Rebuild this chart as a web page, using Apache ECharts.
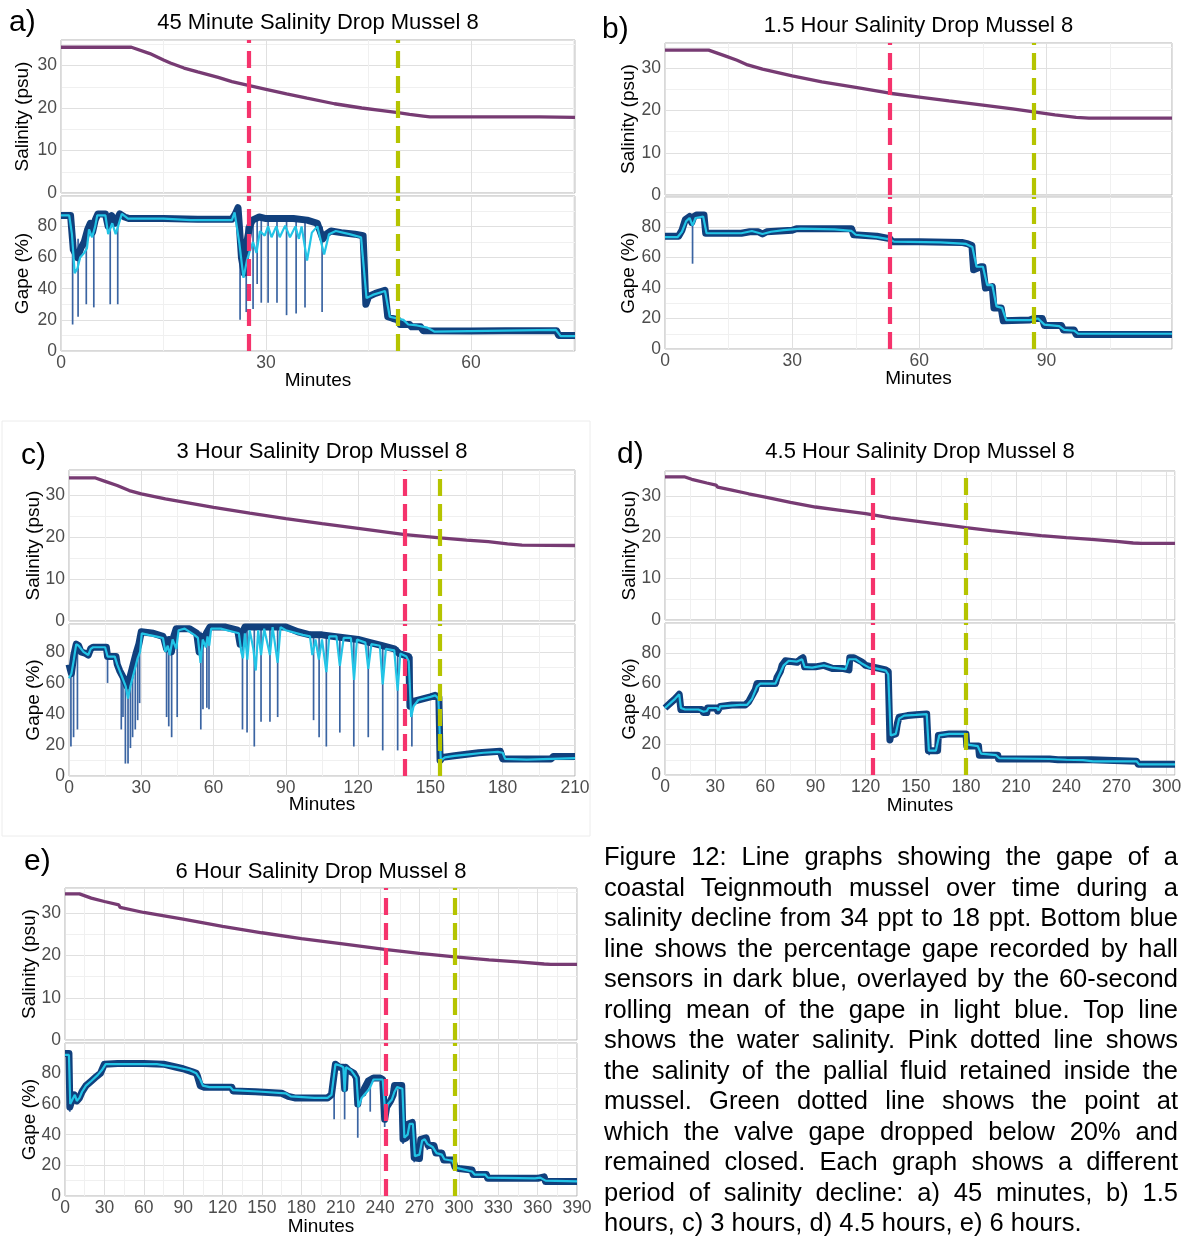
<!DOCTYPE html>
<html>
<head>
<meta charset="utf-8">
<script src="https://cdn.jsdelivr.net/npm/echarts/dist/echarts.min.js"></script>
<style>
  html, body { margin: 0; padding: 0; background: #fff; }
  #chart { position: absolute; left: 0; top: 0; width: 1189px; height: 1236px; }
  #caption { position: absolute; left: 604px; top: 841px; width: 574px;
    font-family: 'Liberation Sans', Arial, sans-serif; font-size: 25.5px; line-height: 30.5px; color: #000; }
  #caption div { text-align: justify; text-align-last: justify; }
  #caption div.last { text-align-last: left; }
</style>
</head>
<body>
<div id="chart"></div>
<div id="caption"></div>
<script>
// ---- a) 45 minute drop ----
var salA = [[0,34.3],[10.3,34.3],[13,32.8],[15,31.3],[16,30.6],[18,29.4],[20,28.5],[23,27.2],[25,26.2],[27.4,25.3],[30,24.4],[33,23.3],[36,22.3],[40,21.0],[44,20],[47,19.4],[49.3,18.9],[51,18.5],[53,18.1],[54,17.9],[60,17.9],[70,17.9],[75.2,17.8]];
var gapeA = [[0,87],[1.4,87],[1.8,65],[2.4,60],[2.9,66],[3.4,70],[3.9,78],[4.3,82],[4.6,76],[5,84],[5.4,88],[6.5,88],[6.9,80],[7.4,87],[7.9,82],[8.6,88],[9.3,86],[10,85],[15,85],[20,84.5],[25,84.5],[25.5,88],[25.9,92],[26.1,80],[26.4,60],[26.8,50],[27.2,70],[27.6,80],[28,84],[29,86],[30,85],[32,85],[34,85],[36,84],[37.5,82],[38.3,72],[38.8,75],[39.5,77],[41,76],[43,75],[44.2,74],[44.6,30],[45,35],[46,37],[47.4,39],[47.8,22],[48.5,21],[49.3,20],[49.6,17],[51,17],[51.3,15.5],[52.6,15.5],[53,13],[60,12.8],[65,13],[70,13],[72.5,13],[72.8,10],[75.2,10]];
var spikesA = [[1.7,80,17],[2.5,72,22],[3.7,78,30],[4.8,85,28],[7.2,87,30],[8.3,87,30],[26.2,85,20],[27.1,80,25],[28.1,84,27],[28.7,85,43],[29.3,86,31],[30.3,86,31],[31.6,86,31],[33,86,23],[34.4,85,24],[35.7,84,28],[38.2,80,25]];
var meanA = [[0,87],[1.2,87],[1.6,75],[2.0,50],[2.4,53],[2.8,60],[3.4,63],[3.8,66],[4.1,78],[4.55,73],[5.0,80],[5.3,87],[6.5,87],[6.9,75],[7.5,82],[8.0,75],[8.9,88],[9.8,85],[15,85],[19,84],[25,84],[25.4,89],[26.1,69],[26.7,47],[27.2,58],[27.6,64],[28.1,70],[28.6,63],[29.1,77],[29.8,74],[30.3,80],[30.8,73],[31.5,80],[32,73],[32.8,80.5],[33.5,73],[34.3,80],[34.8,72],[35.2,80],[36,58],[36.7,76],[37.5,80],[38.5,62],[39.2,75],[40.2,77],[42.2,75],[43.9,73],[44.7,34],[45.6,36],[47.4,38.5],[48.1,22],[50.1,20],[50.8,17],[52.1,16.4],[53.6,15],[54.6,12.5],[72.4,13.6],[73.1,9.5],[75.2,9.5]];
var marksA = [27.4, 49.3];

// ---- b) 1.5 hour drop ----
var salB = [[0,34.3],[10.3,34.3],[14,33],[17,31.9],[19.5,30.8],[23,29.8],[30,28.2],[37,26.8],[45,25.5],[53,24.1],[60,23.2],[67,22.3],[75,21.3],[82,20.4],[87,19.7],[92,19],[97,18.4],[100,18.2],[119.6,18.2]];
var gapeB = [[0,74],[3.2,74],[4,78],[4.8,85],[5.8,87],[6.3,83],[6.8,87],[7.5,88],[9.2,88],[9.6,76],[12,76],[18,76],[20,77],[22,77],[23,75.5],[24,77],[30,78],[31,79],[44,79],[44.5,75],[50,74],[53,72.5],[53.6,70.5],[60,70.5],[70,70],[71.5,69],[72.4,68],[72.8,52],[74.5,54],[75,54],[75.6,40],[77.2,41],[77.6,27],[79.3,27],[79.8,18.5],[86,19],[87,20],[89,20],[89.5,15.5],[93.5,15.5],[94,12.5],[96.5,12.5],[97,9.5],[119.6,9.5]];
var spikesB = [[6.5,84,56]];
var meanB = [[0,73.5],[3,73.5],[4,77],[5,84],[5.8,86],[6.5,81],[7.2,86],[9,87],[9.8,76],[12,76],[18,76],[20.5,77.5],[23,75.5],[25,77],[28,78],[32,79],[40,78.5],[44,77.5],[45,75],[50,73.5],[53,72],[54,70.5],[65,70],[71,69],[72.5,67],[73.5,54],[75,54],[76,42],[77.2,42],[78.2,28],[79.5,27],[80.5,19],[86,19],[88,20],[89.5,16],[93,15],[94.2,12.5],[96.5,12],[97.5,10],[119.6,10]];
var marksB = [53, 87];

// ---- c) 3 hour drop ----
var salC = [[0,34.1],[11,34.1],[15,33.3],[20,32.3],[25,31.1],[30,30.3],[40,29.1],[50,28.1],[60,27.1],[75,25.7],[90,24.4],[105,23.2],[120,22.1],[139.5,20.6],[154,19.8],[165,19.3],[174,18.9],[182,18.4],[188,18.1],[210,18.0]];
var gapeC = [[0,72],[1,66],[2,78],[3,85],[4,84],[5,80],[7,79],[8,78],[9,82],[10,83],[15.5,83],[16,77],[19.5,77],[20,72],[21,68],[22,65],[23,62],[24,58],[25,62],[26,68],[27,74],[28,80],[29,85],[30,93],[35,92],[39,90],[39.5,88],[40.5,82],[41.5,88],[42.5,80],[43.5,90],[44.5,95],[50,95],[52,93],[53,92],[54,80],[55,90],[56,86],[57,92],[58.5,96],[65,96],[70,94],[71,85],[72,92],[73,96],[90,96],[95,93],[100,91],[105,91],[110,90],[115,89],[120,88],[125,86],[130,84],[135,82],[137,79],[141,77],[141.5,45],[142.5,48],[150,51],[152,52],[153.5,51],[154,10],[155,12],[160,13],[170,15],[179,16],[180,11],[200,11],[201,12.5],[210,12.5]];
var spikesC = [[0.8,72,19],[1.9,70,25],[3.5,85,30],[16,83,60],[21.7,70,30],[22.4,66,38],[23.4,64,8],[24.5,62,8],[25.5,66,18],[26.4,70,25],[27.5,76,30],[28.5,80,36],[29.3,86,47],[40.5,90,38],[41.4,88,32],[42.6,90,25],[44.9,92,38],[54.7,93,30],[55.6,92,43],[57.2,92,44],[58.1,93,43],[72,96,30],[73.9,96,28],[76.9,96,19],[79.7,96,35],[83.4,96,35],[86.6,96,38],[101.5,92,36],[103.8,92,25],[106.8,92,19],[112.4,90,28],[118.2,89,19],[124.2,87,25],[130.2,85,16.5],[136.4,83,16.5],[142.3,77,19]];
var meanC = [[0,63],[1,66],[2,75],[3,85],[4,84],[6,80],[8,78],[9,82],[10,83],[15,83],[16,77],[19,77],[20,72],[21,68],[22,64],[23.5,58],[24.5,50],[25.5,58],[26.5,64],[27.5,70],[28.5,76],[29.5,80],[30.2,92],[33,91],[36,90],[39,89],[40,80],[41,84],[41.8,78],[43,88],[44.5,82],[45.5,94],[48,95],[52,91],[53.5,89],[54.6,73],[55.5,88],[56.8,83],[57.5,90],[58.2,84],[59,95],[63,95],[68,93],[70.5,92],[71.5,80],[72.2,76],[73,92],[74,75],[75,94],[76.5,82],[77.5,68],[78.5,94],[79.7,78],[81,95],[83.4,78],[84.5,96],[86.6,73],[87.8,96],[90,94],[97,91],[100,90],[101,78],[102.3,88],[103.7,75],[105,88],[106.8,67],[108,90],[111,90],[112.4,71],[114,89],[117,89],[118.3,62],[119.5,88],[123,86],[124.2,69],[125.5,85],[129,84],[130.2,59],[131.5,82],[135,81],[136.4,55],[137.5,79],[140,77],[141,74],[142,38],[143,45],[145,49],[150,51],[152,52],[153.3,50],[154.3,10],[156,12],[160,13],[166,14],[172,15],[178,15.5],[180,15],[181,11],[190,10.5],[200,11],[210,11.5]];
var marksC = [139.5, 154];

// ---- d) 4.5 hour drop ----
var salD = [[0,34.6],[11.5,34.6],[16,34],[25,33.1],[30.5,32.6],[31.5,32.1],[40,31.4],[50,30.5],[60,29.7],[75,28.4],[90,27.3],[105,26.5],[120,25.7],[135,24.7],[150,23.9],[165,23.1],[180,22.3],[195,21.6],[210,21.0],[225,20.4],[240,19.9],[255,19.5],[270,19],[280,18.6],[285,18.5],[305,18.5]];
var gapeD = [[0,44],[3,47],[6,50],[8.5,53],[9.5,43],[12,43],[22,43],[23,41],[25,41],[25.5,44],[31,44],[31.5,42],[32.5,42],[33,45],[40,46],[48,46],[50,48],[52,52],[54,56],[55,60],[62,60],[66,60],[67,64],[69,68],[70,72],[72,75],[79,74],[81,76],[82.5,77],[83.5,71],[90,71],[95,72],[100,70],[106,70],[110,69],[110.5,77],[113,77],[118,74],[120,72],[124,71],[132,69],[133.5,68],[134.5,23],[135,26],[138,27],[139,34],[140,38],[145,39],[150,39.5],[156.5,40],[157.5,16],[163,16],[163.5,26],[170,27],[180,27],[180.5,19],[187.5,19],[188,13],[199,13],[199.5,10.5],[230,10.5],[235,10],[255,10],[256,9],[282,9],[283,7],[305,7]];
var spikesD = [[134.5,68,22],[158,26,13]];
var meanD = [[0,44],[3,47],[6,50],[8.5,53],[9.5,44],[12,43],[20,43],[23,41.5],[25,42],[26,44],[31,44],[32,42.5],[33,45],[45,46],[49,46],[52,50],[55,58],[57,60],[66,60],[68,65],[71,72],[74,75],[79,74.5],[82,76],[83.5,71],[88,70.5],[95,72],[100,70.5],[108,69.5],[110,76],[114,76],[118,73],[122,70.5],[126,70],[132,68.5],[133.5,66],[135,26],[138,27],[140,37],[143,39],[150,39.5],[156.5,40],[157.8,16],[162,16],[164,26],[170,27],[180,27],[181,20],[187,19],[189,14],[198,13],[200,11],[230,10.5],[240,10],[250,9.8],[256,9],[270,9],[282,9],[283.5,7],[305,7]];
var marksD = [124.5, 180];

// ---- e) 6 hour drop ----
var salE = [[0,34.6],[11,34.6],[20,33.6],[30,32.8],[41,32],[42,31.4],[60,30.2],[90,28.6],[120,26.9],[150,25.4],[180,24],[210,22.8],[245,21.4],[270,20.5],[297,19.7],[323,19],[345,18.5],[365,18],[370,17.9],[390,17.9]];
var gapeE = [[0,93],[3,93],[3.7,58],[5,62],[7,66],[9,62],[11,64],[13,68],[16,72],[20,75],[24,78],[27,80],[30,86],[40,86.5],[60,86.5],[75,86],[85,84],[90,83],[97,81],[100,80],[101,78],[103,72],[106,71],[120,71],[127,71],[128,68.5],[145,68],[165,67],[170,65],[175,64],[190,64],[200,64],[203,66],[204.5,65],[206,86],[209,84],[212,84],[213,70],[213.7,84],[216,82],[220,80],[222,77],[223,60],[224,66],[227,67],[228,70],[231,75],[235,77],[240,77],[242,76],[243.5,50],[245,58],[248,62],[250,66],[251,72],[256.5,72],[257.5,37],[260,38],[261.5,47],[264.5,48],[266,25],[270,24.5],[271,37],[275,38],[276.5,33],[281,33],[282.5,28],[287,28],[288.5,23.5],[295.5,23.5],[297,19],[300,18],[301,17],[310,17],[311,14],[321,14],[322,11.5],[360,11.5],[361,12.5],[365,12.5],[366,9.5],[390,9.5]];
var spikesE = [[3.7,92,55],[205,66,50],[213,84,50],[223,76,38],[232.5,76,55],[243.5,77,45],[257.5,72,34],[266,46,22],[276,38,30]];
var meanE = [[0,92],[3,92],[4,60],[5.5,61],[7.5,66],[9,62],[11,64],[13,68],[16,72],[20,75],[25,79],[28,82],[31,86],[40,86],[70,86],[85,84],[95,82],[100,80],[103,76],[105,72],[110,71],[126,71],[128,69],[150,68],[168,67],[172,65],[190,64],[200,64],[203,66],[206,86],[210,85],[212,84],[213,68],[214,84],[218,82],[222,77],[223.5,58],[226,64],[228,66],[232,70],[235,76],[242,76],[244,53],[246,60],[249,63],[251,68],[253,71],[257,70],[258.5,38],[261,40],[262.5,47],[265,47],[266.5,26],[270,27],[272,36],[274,37],[276,34],[280,32],[283,28],[287,27],[289,24],[295,23],[297,19],[300,18],[310,16],[312,14],[320,14],[322,12],[358,11.5],[362,12],[366,10],[390,9.5]];
var marksE = [244, 297];

var titles = ['45 Minute Salinity Drop Mussel 8', '1.5 Hour Salinity Drop Mussel 8', '3 Hour Salinity Drop Mussel 8', '4.5 Hour Salinity Drop Mussel 8', '6 Hour Salinity Drop Mussel 8'];
var letters = ['a)', 'b)', 'c)', 'd)', 'e)'];
var captionLines = [
  'Figure 12: Line graphs showing the gape of a',
  'coastal Teignmouth mussel over time during a',
  'salinity decline from 34 ppt to 18 ppt. Bottom blue',
  'line shows the percentage gape recorded by hall',
  'sensors in dark blue, overlayed by the 60-second',
  'rolling mean of the gape in light blue. Top line',
  'shows the water salinity. Pink dotted line shows',
  'the salinity of the pallial fluid retained inside the',
  'mussel. Green dotted line shows the point at',
  'which the valve gape dropped below 20% and',
  'remained closed. Each graph shows a different',
  'period of salinity decline: a) 45 minutes, b) 1.5',
  'hours, c) 3 hours, d) 4.5 hours, e) 6 hours.'
];

// layout: plot box [left, right, salTop, salBottom, gapeTop, gapeBottom]
var panels = [
  { sal: salA, gape: gapeA, spikes: spikesA, mean: meanA, marks: marksA, xMax: 75.2, gMax: 99.5,
    box: [61, 575, 40, 193, 196, 351], letter: [9, 23], titleY: 23, nameX: 23, minutesY: 381 },
  { sal: salB, gape: gapeB, spikes: spikesB, mean: meanB, marks: marksB, xMax: 119.6, gMax: 99.8,
    box: [665, 1172, 43, 195, 197, 349], letter: [602, 30], titleY: 26, nameX: 629, minutesY: 379 },
  { sal: salC, gape: gapeC, spikes: spikesC, mean: meanC, marks: marksC, xMax: 210, gMax: 98,
    box: [69, 575, 470, 621, 624, 776], letter: [21, 456], titleY: 452, nameX: 34, minutesY: 805 },
  { sal: salD, gape: gapeD, spikes: spikesD, mean: meanD, marks: marksD, xMax: 305, gMax: 99.8,
    box: [665, 1175, 471, 620, 623, 775], letter: [617, 455], titleY: 452, nameX: 630, minutesY: 806 },
  { sal: salE, gape: gapeE, spikes: spikesE, mean: meanE, marks: marksE, xMax: 390, gMax: 99.8,
    box: [65, 577, 888, 1040, 1043, 1196], letter: [24, 862], titleY: 872, nameX: 30, minutesY: 1227 }
];

var FONT = "'Liberation Sans', Arial, sans-serif";
var markColors = ['#f5336c', '#b5c400'];
var gridColors = ['#e0e0e0', '#f0f0f0'];

function xAxis(g, max, labels) {
  return {
    type: 'value', gridIndex: g, min: 0, max: max, interval: 15,
    axisLine: { show: false }, axisTick: { show: false },
    axisLabel: { show: labels, color: '#4d4d4d', fontSize: 17.5, fontFamily: FONT, margin: 3,
      formatter: function (v) { return v % 30 === 0 ? String(v) : ''; } },
    splitLine: { show: true, lineStyle: { color: gridColors, width: 1 } }
  };
}
function yAxis(g, max, step, major) {
  return {
    type: 'value', gridIndex: g, min: 0, max: max, interval: step,
    axisLine: { show: false }, axisTick: { show: false },
    axisLabel: { color: '#4d4d4d', fontSize: 17.5, fontFamily: FONT, margin: 4,
      formatter: function (v) { return v % major === 0 ? String(v) : ''; } },
    splitLine: { show: true, lineStyle: { color: gridColors, width: 1 } }
  };
}
function marker(marks, top) {
  return {
    symbol: ['none', 'none'], silent: true, animation: false, z: 6,
    label: { show: false },
    data: marks.map(function (m, j) {
      return [{ coord: [m, 0], lineStyle: { color: markColors[j], type: [17, 8], width: 4.2 } }, { coord: [m, top] }];
    })
  };
}

var grids = [], xAxes = [], yAxes = [], series = [], graphics = [];

graphics.push({ type: 'rect', z: -10, shape: { x: 2, y: 421, width: 588, height: 415 },
  style: { fill: 'none', stroke: '#ececec', lineWidth: 1 } });

panels.forEach(function (p, i) {
  var b = p.box, gs = 2 * i, gg = 2 * i + 1;
  grids.push({ left: b[0], top: b[2], width: b[1] - b[0], height: b[3] - b[2], show: true, borderColor: '#b3b3b3', borderWidth: 1 });
  grids.push({ left: b[0], top: b[4], width: b[1] - b[0], height: b[5] - b[4], show: true, borderColor: '#b3b3b3', borderWidth: 1 });
  xAxes.push(xAxis(gs, p.xMax, false), xAxis(gg, p.xMax, true));
  yAxes.push(yAxis(gs, 36, 5, 10), yAxis(gg, p.gMax, 10, 20));

  series.push({ type: 'line', xAxisIndex: gs, yAxisIndex: gs, data: p.sal, showSymbol: false, z: 3,
    lineStyle: { color: '#773b73', width: 3.3 }, markLine: marker(p.marks, 36) });
  series.push({ type: 'line', xAxisIndex: gg, yAxisIndex: gg, data: p.gape, showSymbol: false, z: 2,
    lineStyle: { color: '#11407d', width: 7, join: 'round' } });
  series.push({ type: 'custom', xAxisIndex: gg, yAxisIndex: gg, data: p.spikes, z: 2, clip: true,
    encode: { x: 0, y: [1, 2] },
    renderItem: function (params, api) {
      var p1 = api.coord([api.value(0), api.value(1)]);
      var p2 = api.coord([api.value(0), api.value(2)]);
      return { type: 'line', shape: { x1: p1[0], y1: p1[1], x2: p2[0], y2: p2[1] },
        style: { stroke: '#3a64a2', lineWidth: 1.7 } };
    } });
  series.push({ type: 'line', xAxisIndex: gg, yAxisIndex: gg, data: p.mean, showSymbol: false, z: 4,
    lineStyle: { color: '#22c4e6', width: 2.2 }, markLine: marker(p.marks, p.gMax) });

  var cx = (b[0] + b[1]) / 2;
  graphics.push({ type: 'text', x: p.letter[0], y: p.letter[1],
    style: { text: letters[i], font: '30px ' + FONT, fill: '#000', textAlign: 'left', textVerticalAlign: 'middle' } });
  graphics.push({ type: 'text', x: cx, y: p.titleY,
    style: { text: titles[i], font: '22px ' + FONT, fill: '#000', textAlign: 'center', textVerticalAlign: 'middle' } });
  graphics.push({ type: 'text', x: p.nameX, y: (b[2] + b[3]) / 2, rotation: Math.PI / 2,
    style: { text: 'Salinity (psu)', font: '19px ' + FONT, fill: '#000', textAlign: 'center', textVerticalAlign: 'middle' } });
  graphics.push({ type: 'text', x: p.nameX, y: (b[4] + b[5]) / 2, rotation: Math.PI / 2,
    style: { text: 'Gape (%)', font: '19px ' + FONT, fill: '#000', textAlign: 'center', textVerticalAlign: 'middle' } });
  graphics.push({ type: 'text', x: cx, y: p.minutesY,
    style: { text: 'Minutes', font: '19px ' + FONT, fill: '#000', textAlign: 'center', textVerticalAlign: 'middle' } });
});

var chart = echarts.init(document.getElementById('chart'), null, { renderer: 'canvas' });
chart.setOption({
  animation: false,
  backgroundColor: '#fff',
  textStyle: { fontFamily: FONT },
  grid: grids,
  xAxis: xAxes,
  yAxis: yAxes,
  series: series,
  graphic: graphics
});

var cap = document.getElementById('caption');
captionLines.forEach(function (line, i) {
  var d = document.createElement('div');
  d.textContent = line;
  if (i === captionLines.length - 1) d.className = 'last';
  cap.appendChild(d);
});
</script>
</body>
</html>
